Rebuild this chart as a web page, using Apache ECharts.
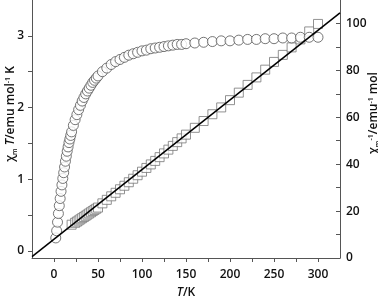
<!DOCTYPE html>
<html>
<head>
<meta charset="utf-8">
<script src="https://cdn.jsdelivr.net/npm/echarts@6/dist/echarts.min.js"></script>
<style>html,body{margin:0;padding:0;background:#fff;}#c{width:378px;height:298px;}</style>
</head>
<body>
<div id="c"></div>
<script>
// chi_m*T vs T (circles, left axis)
const tempChiT = [2,3,4,5,6,7,8,9,10,11,12,13,14,15,16,17,18,19,20,22,24,26,28,30,32,34,36,38,40,42,44,46,48,50,55,60,65,70,75,80,85,90,95,100,105,110,115,120,125,130,135,140,145,150,160,170,180,190,200,210,220,230,240,250,260,270,280,290,300];
const chiT = [0.18,0.28,0.40,0.52,0.63,0.73,0.83,0.92,1.01,1.09,1.17,1.25,1.32,1.39,1.45,1.51,1.56,1.61,1.66,1.75,1.83,1.90,1.97,2.03,2.09,2.14,2.19,2.23,2.27,2.31,2.35,2.38,2.41,2.44,2.50,2.55,2.60,2.64,2.67,2.70,2.73,2.75,2.77,2.79,2.80,2.82,2.83,2.84,2.85,2.86,2.87,2.88,2.88,2.89,2.90,2.91,2.92,2.93,2.93,2.94,2.95,2.95,2.96,2.96,2.97,2.97,2.98,2.98,2.98];
// 1/chi_m vs T (squares, right axis)
const tempInv = [20,24,26,28,30,32,34,36,38,40,42,44,46,48,50,55,60,65,70,75,80,85,90,95,100,105,110,115,120,125,130,135,140,145,150,160,170,180,190,200,210,220,230,240,250,260,270,280,290,300];
const chiInv = [14.2,15.0,15.5,16.0,16.5,17.0,17.5,18.0,18.5,19.0,19.5,20.0,20.5,21.0,21.5,23.3,24.8,26.3,27.8,29.3,30.8,32.3,33.8,35.3,36.8,38.4,39.9,41.4,43.0,44.6,46.2,47.8,49.4,51.0,52.6,55.5,58.4,61.3,64.2,67.3,70.5,73.8,77.0,80.3,83.6,86.6,89.8,93.2,96.6,99.8];
// Curie-Weiss fit line (right axis)
const fitT = [-25, 325];
const fitInv = [0.6, 104.5];
// tick labels
const xLabels = [0,50,100,150,200,250,300];
const xTicks = [0,25,50,75,100,125,150,175,200,225,250,275,300];
const leftLabels = [0,1,2,3];
const leftTicks = [0,0.5,1,1.5,2,2.5,3];
const rightLabels = [0,20,40,60,80,100];
const rightTicks = [0,10,20,30,40,50,60,70,80,90,100];

const FONT = 'Open Sans';
const axisColor = '#555';
const textColor = '#111';
const chart = echarts.init(document.getElementById('c'), null, {renderer:'canvas'});
const richName = {
  n:{fontSize:12,fontFamily:FONT,color:textColor,fontWeight:600,lineHeight:14},
  it:{fontSize:12,fontFamily:FONT,color:textColor,fontStyle:'italic',fontWeight:600,lineHeight:14},
  sub:{fontSize:7,fontFamily:FONT,color:textColor,fontWeight:600,verticalAlign:'bottom',lineHeight:14,padding:[4,0,0,0]},
  sup:{fontSize:7,fontFamily:FONT,color:textColor,fontWeight:600,verticalAlign:'top',lineHeight:14,padding:[0,0,3,0]}
};
chart.setOption({
  animation:false,
  backgroundColor:'#fff',
  grid:{left:32,right:38,top:0,bottom:40,containLabel:false,outerBoundsMode:'none'},
  xAxis:{
    type:'value', min:-25, max:325,
    name:'{it|T}{n|/K}', nameLocation:'middle', nameGap:28, nameMoveOverlap:false,
    nameTextStyle:{rich:richName},
    axisLine:{show:true,onZero:false,lineStyle:{color:axisColor,width:1}},
    axisTick:{show:true,inside:false,length:4,customValues:xTicks,lineStyle:{color:axisColor}},
    axisLabel:{customValues:xLabels,fontFamily:FONT,fontSize:12,fontWeight:600,color:textColor,margin:11},
    splitLine:{show:false}
  },
  yAxis:[{
    type:'value', min:-0.1, max:3.5, position:'left',
    name:'{n|χ}{sub|m}{n| }{it|T}{n|/emu mol}{sup|-1}{n| K}', nameLocation:'middle', nameGap:14, nameMoveOverlap:false,
    nameTextStyle:{rich:richName, padding:[0,0,0,30]},
    axisLine:{show:true,onZero:false,lineStyle:{color:axisColor,width:1}},
    axisTick:{show:true,inside:false,length:4,customValues:leftTicks,lineStyle:{color:axisColor}},
    axisLabel:{customValues:leftLabels,fontFamily:FONT,fontSize:12,fontWeight:600,color:textColor,margin:8},
    splitLine:{show:false}
  },{
    type:'value', min:0, max:110, position:'right',
    name:'{n|χ}{sub|m}{sup|-1}{n|/emu}{sup|-1}{n| mol}', nameLocation:'middle', nameGap:27, nameMoveOverlap:false,
    nameTextStyle:{rich:richName, padding:[0,0,0,32]},
    axisLine:{show:true,onZero:false,lineStyle:{color:axisColor,width:1}},
    axisTick:{show:true,inside:true,length:4,customValues:rightTicks,lineStyle:{color:axisColor}},
    axisLabel:{customValues:rightLabels,fontFamily:FONT,fontSize:12,fontWeight:600,color:textColor,margin:6},
    splitLine:{show:false}
  }],
  series:[{
    type:'scatter', yAxisIndex:1, symbol:'rect', symbolSize:9,
    data: tempInv.map((t,i)=>[t,chiInv[i]]),
    itemStyle:{color:'#fff',borderColor:'#777',borderWidth:1},
    z:2
  },{
    type:'scatter', yAxisIndex:0, symbol:'circle', symbolSize:10,
    data: tempChiT.map((t,i)=>[t,chiT[i]]),
    itemStyle:{color:'#fff',borderColor:'#555',borderWidth:1},
    z:3
  },{
    type:'line', yAxisIndex:1, symbol:'none',
    data: fitT.map((t,i)=>[t,fitInv[i]]),
    lineStyle:{color:'#000',width:1.5},
    z:4
  }]
});
</script>
</body>
</html>
